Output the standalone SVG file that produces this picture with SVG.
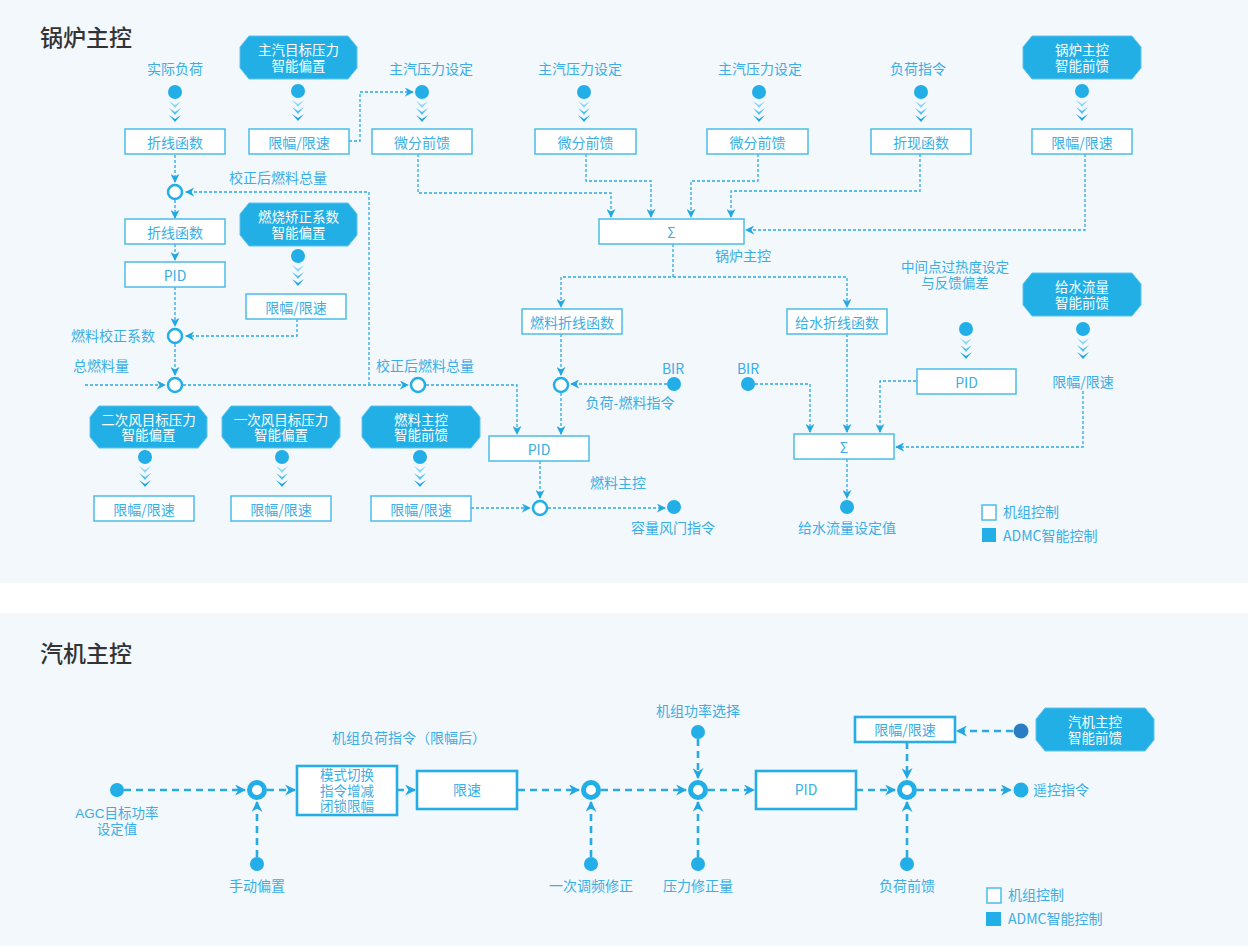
<svg xmlns="http://www.w3.org/2000/svg" width="1254" height="946" viewBox="0 0 1254 946">
<style>
text{font-family:"Noto Sans CJK SC","Noto Sans",sans-serif;}
.lbl{font-size:14px;fill:#3aaee5;text-anchor:middle;dominant-baseline:central;}
.lbs{font-size:14px;fill:#3aaee5;text-anchor:start;dominant-baseline:central;}
.ttl{font-size:23px;fill:#333;font-weight:500;dominant-baseline:central;}
.box{fill:#fff;stroke:#4cbce9;stroke-width:1.5;}
.box2{fill:#fff;stroke:#27ade5;stroke-width:2.6;}
.oct{fill:#22afe6;stroke:#5cc4ee;stroke-width:1;}
.otx{font-family:"Liberation Sans","Noto Sans CJK SC",sans-serif;font-size:13.5px;fill:#fff;text-anchor:middle;}
.ml{font-family:"Liberation Sans","Noto Sans CJK SC",sans-serif;font-size:13.5px;fill:#3aaee5;text-anchor:middle;}
.dot{fill:#22aee6;}
.ring{fill:#fff;stroke:#22aee6;stroke-width:2.5;}
.ring2{fill:#fff;stroke:#22aee6;stroke-width:5;}
.c1{fill:none;stroke:#2aaae2;stroke-width:1.3;stroke-dasharray:3 2;marker-end:url(#a1);}
.c2{fill:none;stroke:#2aaae2;stroke-width:2.6;stroke-dasharray:7 5;marker-end:url(#a2);}
.v1{fill:#8ed5f3;}.v2{fill:#55c0ee;}.v3{fill:#1fa8e0;}
</style>
<defs>
<marker id="a1" viewBox="0 0 10 10" refX="9" refY="5" markerWidth="9" markerHeight="9" markerUnits="userSpaceOnUse" orient="auto"><path d="M0,0 L10,5 L0,10 L3,5 Z" fill="#22a7e0"/></marker>
<marker id="a2" viewBox="0 0 10 10" refX="9" refY="5" markerWidth="11" markerHeight="11" markerUnits="userSpaceOnUse" orient="auto"><path d="M0,0 L10,5 L0,10 L3,5 Z" fill="#22a7e0"/></marker>
<g id="chev">
<path class="v1" d="M-6,9 L0,13 L6,9 L0,16 Z"/>
<path class="v2" d="M-6,16 L0,20 L6,16 L0,23 Z"/>
<path class="v3" d="M-6,23 L0,27 L6,23 L0,30 Z"/>
<circle class="dot" cx="0" cy="0" r="7"/>
</g>
</defs>
<rect x="0" y="0" width="1254" height="946" fill="#ffffff"/>
<rect x="0" y="0" width="1248" height="583" fill="#f3f8fd"/>
<rect x="0" y="613" width="1248" height="333" fill="#f3f8fd"/>

<text class="ttl" x="40" y="36">锅炉主控</text>
<text class="ttl" x="40" y="652">汽机主控</text>

<g id="connectors1">
<path class="c1" d="M349,141 H360 V92 H413"/>
<path class="c1" d="M175,155 V182"/>
<path class="c1" d="M369,385 V192 H186"/>
<path class="c1" d="M175,200 V218"/>
<path class="c1" d="M175,244 V260"/>
<path class="c1" d="M175,287 V326"/>
<path class="c1" d="M297,319 V336 H186"/>
<path class="c1" d="M175,344 V375"/>
<path class="c1" d="M85,385 H165"/>
<path class="c1" d="M183,385 H408"/>
<path class="c1" d="M426,385 H517 V434"/>
<path class="c1" d="M471,508 H530"/>
<path class="c1" d="M540,461 V498"/>
<path class="c1" d="M548,508 H665"/>
<path class="c1" d="M673,244 V277 H561 V307"/>
<path class="c1" d="M673,277 H847 V307"/>
<path class="c1" d="M561,334 V375"/>
<path class="c1" d="M667,384 H571"/>
<path class="c1" d="M561,393 V434"/>
<path class="c1" d="M418,154 V193 H611 V217"/>
<path class="c1" d="M586,154 V181 H651 V217"/>
<path class="c1" d="M758,154 V181 H691 V217"/>
<path class="c1" d="M920,154 V191 H731 V217"/>
<path class="c1" d="M1085,154 V230 H746"/>
<path class="c1" d="M847,334 V432"/>
<path class="c1" d="M755,384 H810 V432"/>
<path class="c1" d="M916,381 H880 V432"/>
<path class="c1" d="M1083,391 V447 H896"/>
<path class="c1" d="M847,459 V498"/>
</g>

<g id="connectors2">
<path class="c2" d="M124,790 H245"/>
<path class="c2" d="M257,857 V802"/>
<path class="c2" d="M267,790 H295"/>
<path class="c2" d="M397,790 H415"/>
<path class="c2" d="M518,790 H579"/>
<path class="c2" d="M591,857 V802"/>
<path class="c2" d="M601,790 H686"/>
<path class="c2" d="M698,739 V778"/>
<path class="c2" d="M698,857 V802"/>
<path class="c2" d="M708,790 H754"/>
<path class="c2" d="M856,790 H895"/>
<path class="c2" d="M907,742 V778"/>
<path class="c2" d="M1013,731 H957"/>
<path class="c2" d="M917,790 H1011"/>
<path class="c2" d="M907,857 V802"/>
</g>

<!-- top row inputs -->
<g id="in-shiji"><text class="lbl" x="175" y="68">实际负荷</text><use href="#chev" x="175" y="92"/></g>
<g id="oct-zhuqi"><polygon class="oct" points="249,36 348,36 357,47 357,68 348,79 249,79 240,68 240,47"/><text class="otx" x="298.5" y="55"><tspan x="298.5">主汽目标压力</tspan><tspan x="298.5" dy="15.5">智能偏置</tspan></text><use href="#chev" x="298" y="91"/></g>
<g id="in-p1"><text class="lbl" x="431" y="68">主汽压力设定</text><use href="#chev" x="422" y="92"/></g>
<g id="in-p2"><text class="lbl" x="580" y="68">主汽压力设定</text><use href="#chev" x="584" y="92"/></g>
<g id="in-p3"><text class="lbl" x="760" y="68">主汽压力设定</text><use href="#chev" x="759" y="92"/></g>
<g id="in-load"><text class="lbl" x="918" y="68">负荷指令</text><use href="#chev" x="921" y="92"/></g>
<g id="oct-guolu"><polygon class="oct" points="1032,36 1132,36 1141,47 1141,68 1132,79 1032,79 1023,68 1023,47"/><text class="otx" x="1082" y="55"><tspan x="1082">锅炉主控</tspan><tspan x="1082" dy="15.5">智能前馈</tspan></text><use href="#chev" x="1082" y="91"/></g>

<!-- top row boxes -->
<g id="b-zx1"><rect class="box" x="125" y="129" width="100" height="25"/><text class="lbl" x="175" y="141.5">折线函数</text></g>
<g id="b-xf1"><rect class="box" x="249" y="129" width="100" height="25"/><text class="lbl" x="299" y="141.5">限幅/限速</text></g>
<g id="b-wf1"><rect class="box" x="372" y="129" width="100" height="25"/><text class="lbl" x="422" y="141.5">微分前馈</text></g>
<g id="b-wf2"><rect class="box" x="535" y="129" width="101" height="25"/><text class="lbl" x="585.5" y="141.5">微分前馈</text></g>
<g id="b-wf3"><rect class="box" x="707" y="129" width="101" height="25"/><text class="lbl" x="757.5" y="141.5">微分前馈</text></g>
<g id="b-zxh"><rect class="box" x="871" y="129" width="100" height="25"/><text class="lbl" x="921" y="141.5">折现函数</text></g>
<g id="b-xf2"><rect class="box" x="1032" y="129" width="100" height="25"/><text class="lbl" x="1082" y="141.5">限幅/限速</text></g>

<!-- left column -->
<g id="r1"><circle class="ring" cx="175" cy="192" r="7"/></g>
<text class="lbl" x="278" y="177">校正后燃料总量</text>
<g id="b-zx2"><rect class="box" x="125" y="219" width="100" height="25"/><text class="lbl" x="175" y="231.5">折线函数</text></g>
<g id="b-pid1"><rect class="box" x="125" y="262" width="100" height="25"/><text class="lbl" x="175" y="274.5">PID</text></g>
<g id="oct-ranshao"><polygon class="oct" points="249,203 348,203 357,214 357,235 348,246 249,246 240,235 240,214"/><text class="otx" x="298.5" y="222"><tspan x="298.5">燃烧矫正系数</tspan><tspan x="298.5" dy="15.5">智能偏置</tspan></text><use href="#chev" x="298" y="256"/></g>
<g id="b-xf3"><rect class="box" x="246" y="294" width="100" height="25"/><text class="lbl" x="296" y="306.5">限幅/限速</text></g>
<g id="r2"><circle class="ring" cx="175" cy="336" r="7"/><text class="lbl" x="113" y="335">燃料校正系数</text></g>
<g id="r3"><circle class="ring" cx="175" cy="385" r="7"/><text class="lbl" x="101" y="365">总燃料量</text></g>
<g id="r4"><circle class="ring" cx="418" cy="385" r="7"/><text class="lbl" x="425" y="365">校正后燃料总量</text></g>

<!-- bottom row -->
<g id="oct-2"><polygon class="oct" points="99,406 198,406 207,417 207,437 198,448 99,448 90,437 90,417"/><text class="otx" x="148.5" y="424.5"><tspan x="148.5">二次风目标压力</tspan><tspan x="148.5" dy="15.5">智能偏置</tspan></text><use href="#chev" x="145" y="457"/></g>
<g id="oct-1"><polygon class="oct" points="231,406 331,406 340,417 340,437 331,448 231,448 222,437 222,417"/><text class="otx" x="281" y="424.5"><tspan x="281">一次风目标压力</tspan><tspan x="281" dy="15.5">智能偏置</tspan></text><use href="#chev" x="282" y="457"/></g>
<g id="oct-rl"><polygon class="oct" points="371,406 471,406 480,417 480,437 471,448 371,448 362,437 362,417"/><text class="otx" x="421" y="424.5"><tspan x="421">燃料主控</tspan><tspan x="421" dy="15.5">智能前馈</tspan></text><use href="#chev" x="420" y="457"/></g>
<g id="b-xf4"><rect class="box" x="94" y="496" width="100" height="25"/><text class="lbl" x="144" y="508.5">限幅/限速</text></g>
<g id="b-xf5"><rect class="box" x="231" y="496" width="100" height="25"/><text class="lbl" x="281" y="508.5">限幅/限速</text></g>
<g id="b-xf6"><rect class="box" x="371" y="496" width="100" height="25"/><text class="lbl" x="421" y="508.5">限幅/限速</text></g>

<!-- middle -->
<g id="sigma1"><rect class="box" x="599" y="219" width="145" height="25"/><text class="lbl" x="671.5" y="231.5">Σ</text><text class="lbl" x="743" y="255">锅炉主控</text></g>
<g id="b-rlzx"><rect class="box" x="522" y="309" width="100" height="25"/><text class="lbl" x="572" y="321.5">燃料折线函数</text></g>
<g id="r5"><circle class="ring" cx="561" cy="385" r="7"/><text class="lbl" x="630" y="402">负荷-燃料指令</text></g>
<g id="bir1"><circle class="dot" cx="674" cy="384" r="7"/><text class="lbl" x="673" y="368">BIR</text></g>
<g id="b-pid2"><rect class="box" x="489" y="436" width="100" height="25"/><text class="lbl" x="539" y="448.5">PID</text></g>
<g id="r6"><circle class="ring" cx="540" cy="508" r="7"/><text class="lbl" x="618" y="482">燃料主控</text></g>
<g id="out1"><circle class="dot" cx="674" cy="507" r="7"/><text class="lbl" x="673" y="527">容量风门指令</text></g>

<!-- right -->
<g id="b-gszx"><rect class="box" x="787" y="309" width="100" height="25"/><text class="lbl" x="837" y="321.5">给水折线函数</text></g>
<g id="bir2"><circle class="dot" cx="748" cy="384" r="7"/><text class="lbl" x="748" y="368">BIR</text></g>
<g id="in-mid"><text class="ml" x="955" y="272"><tspan x="955">中间点过热度设定</tspan><tspan x="955" dy="16">与反馈偏差</tspan></text><use href="#chev" x="966" y="329"/></g>
<g id="b-pid3"><rect class="box" x="917" y="369" width="99" height="25"/><text class="lbl" x="966.5" y="381.5">PID</text></g>
<g id="oct-gs"><polygon class="oct" points="1032,273 1132,273 1141,284 1141,305 1132,316 1032,316 1023,305 1023,284"/><text class="otx" x="1082" y="292"><tspan x="1082">给水流量</tspan><tspan x="1082" dy="15.5">智能前馈</tspan></text><use href="#chev" x="1083" y="329"/><text class="lbl" x="1083" y="381">限幅/限速</text></g>
<g id="sigma2"><rect class="box" x="794" y="434" width="100" height="25"/><text class="lbl" x="844" y="446.5">Σ</text></g>
<g id="out2"><circle class="dot" cx="847" cy="507" r="7"/><text class="lbl" x="847" y="527">给水流量设定值</text></g>

<g id="legend1"><rect class="box" x="982" y="505" width="14" height="15"/><text class="lbs" x="1003" y="511">机组控制</text><rect x="982" y="528" width="14" height="14" fill="#22aee6"/><text class="lbs" x="1003" y="535">ADMC智能控制</text></g>

<!-- panel 2 -->
<g id="agc"><circle class="dot" cx="117" cy="790" r="7"/><text class="ml" x="117" y="818"><tspan x="117">AGC目标功率</tspan><tspan x="117" dy="15.5">设定值</tspan></text></g>
<g id="s1"><circle class="ring2" cx="257" cy="790" r="7.5"/></g>
<g id="manual"><circle class="dot" cx="257" cy="864" r="7"/><text class="lbl" x="257" y="885">手动偏置</text></g>
<g id="b-mode"><rect class="box2" x="297" y="766" width="100" height="49"/><text class="ml" x="347" y="780"><tspan x="347">模式切换</tspan><tspan x="347" dy="15.5">指令增减</tspan><tspan x="347" dy="15.5">闭锁限幅</tspan></text></g>
<text class="lbl" x="409" y="737">机组负荷指令（限幅后）</text>
<g id="b-xs"><rect class="box2" x="417" y="771" width="100" height="38"/><text class="lbl" x="467" y="789">限速</text></g>
<g id="s2"><circle class="ring2" cx="591" cy="790" r="7.5"/></g>
<g id="ycf"><circle class="dot" cx="591" cy="864" r="7"/><text class="lbl" x="591" y="885">一次调频修正</text></g>
<g id="s3"><circle class="ring2" cx="698" cy="790" r="7.5"/></g>
<g id="jzgl"><circle class="dot" cx="698" cy="732" r="7"/><text class="lbl" x="698" y="710">机组功率选择</text></g>
<g id="ylxz"><circle class="dot" cx="698" cy="864" r="7"/><text class="lbl" x="698" y="885">压力修正量</text></g>
<g id="b-pid4"><rect class="box2" x="756" y="771" width="100" height="38"/><text class="lbl" x="806" y="789">PID</text></g>
<g id="s4"><circle class="ring2" cx="907" cy="790" r="7.5"/></g>
<g id="b-xf7"><rect class="box2" x="855" y="717" width="100" height="25"/><text class="lbl" x="905" y="729">限幅/限速</text></g>
<g id="qjdot"><circle cx="1021" cy="731" r="7.5" fill="#2b7dc3"/></g>
<g id="oct-qj"><polygon class="oct" points="1045,708 1145,708 1154,719 1154,740 1145,751 1045,751 1036,740 1036,719"/><text class="otx" x="1095" y="727"><tspan x="1095">汽机主控</tspan><tspan x="1095" dy="15.5">智能前馈</tspan></text></g>
<g id="ykzl"><circle class="dot" cx="1021" cy="790" r="7.5"/><text class="lbs" x="1033" y="789">遥控指令</text></g>
<g id="fhqk"><circle class="dot" cx="907" cy="864" r="7"/><text class="lbl" x="907" y="885">负荷前馈</text></g>
<g id="legend2"><rect class="box" x="987" y="888" width="14" height="15"/><text class="lbs" x="1008" y="894">机组控制</text><rect x="986" y="912" width="15" height="14" fill="#22aee6"/><text class="lbs" x="1008" y="918">ADMC智能控制</text></g>
</svg>
